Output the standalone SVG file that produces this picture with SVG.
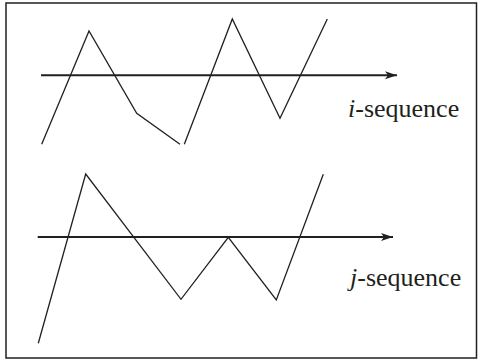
<svg xmlns="http://www.w3.org/2000/svg" width="478" height="361" viewBox="0 0 478 361">
<style>
.seq{fill:none;stroke:#231f20;stroke-width:1.3;stroke-linejoin:miter}
.axis{fill:none;stroke:#231f20;stroke-width:2}
.lbl{font-family:"Liberation Serif","Times New Roman",serif;font-size:26px;fill:#231f20}
</style>
<defs>
<marker id="arr" viewBox="0 0 14 10" refX="12" refY="5" markerWidth="14" markerHeight="10" markerUnits="userSpaceOnUse" orient="auto">
<path d="M0,1 L12,5 L0,9 L3,5 Z" fill="#231f20"/>
</marker>
</defs>
<rect x="6" y="3" width="470.5" height="355" fill="#fff" stroke="#231f20" stroke-width="1.5"/>
<g id="connectors">
<line class="axis" x1="41" y1="75.3" x2="397" y2="75.3" marker-end="url(#arr)"/>
<line class="axis" x1="37.7" y1="237" x2="393" y2="237" marker-end="url(#arr)"/>
</g>
<g id="i-sequence">
<polyline class="seq" points="41.7,144.3 89,31 136.7,113.3 180,144.3"/>
<polyline class="seq" points="184.3,144.3 232.3,19 280,118.3 327.3,19"/>
<text class="lbl" x="348" y="116.5"><tspan font-style="italic">i</tspan>-sequence</text>
</g>
<g id="j-sequence">
<polyline class="seq" points="38.3,343.3 85.7,174 181,299.3 228.3,237.3 276.3,300 323.3,174.3"/>
<text class="lbl" x="350" y="286"><tspan font-style="italic">j</tspan>-sequence</text>
</g>
</svg>
